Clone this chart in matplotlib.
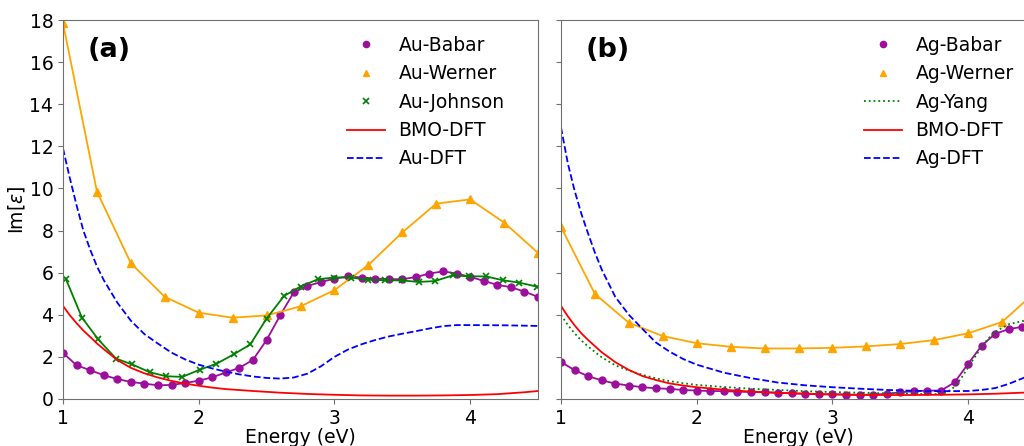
import numpy as np
import matplotlib
matplotlib.use("Agg")
import matplotlib.pyplot as plt
from matplotlib.lines import Line2D

# ---------------- Panel (a): Au ----------------
au_babar_E = [1.0, 1.1, 1.2, 1.3, 1.4, 1.5, 1.6, 1.7, 1.8, 1.9, 2.0, 2.1, 2.2, 2.3, 2.4, 2.5,
              2.6, 2.7, 2.8, 2.9, 3.0, 3.1, 3.2, 3.3, 3.4, 3.5, 3.6, 3.7, 3.8, 3.9, 4.0, 4.1,
              4.2, 4.3, 4.4, 4.5]
au_babar = [2.19, 1.6, 1.37, 1.13, 0.95, 0.81, 0.73, 0.65, 0.67, 0.76, 0.87, 1.03, 1.26, 1.48,
            1.86, 2.8, 3.97, 5.06, 5.37, 5.55, 5.72, 5.82, 5.77, 5.72, 5.69, 5.69, 5.79, 5.96,
            6.06, 5.96, 5.8, 5.61, 5.42, 5.31, 5.1, 4.85]

au_werner_E = [1.0, 1.25, 1.5, 1.75, 2.0, 2.25, 2.5, 2.75, 3.0, 3.25, 3.5, 3.75, 4.0, 4.25, 4.5]
au_werner = [17.85, 9.85, 6.45, 4.85, 4.1, 3.86, 3.97, 4.4, 5.17, 6.36, 7.91, 9.28, 9.48, 8.38, 6.94]

au_johnson_E = [1.02, 1.14, 1.26, 1.39, 1.51, 1.64, 1.76, 1.88, 2.01, 2.13, 2.26, 2.38, 2.50,
                2.63, 2.75, 2.88, 3.00, 3.12, 3.25, 3.37, 3.50, 3.62, 3.74, 3.87, 3.99, 4.12,
                4.24, 4.36, 4.49]
au_johnson = [5.72, 3.86, 2.83, 1.92, 1.64, 1.27, 1.08, 1.05, 1.4, 1.67, 2.13, 2.59, 3.82, 4.9,
              5.34, 5.69, 5.77, 5.77, 5.66, 5.64, 5.63, 5.56, 5.6, 5.87, 5.83, 5.82, 5.64, 5.53,
              5.34]

au_bmo_E = [1.0, 1.05, 1.1, 1.15, 1.2, 1.25, 1.3, 1.4, 1.5, 1.6, 1.7, 1.8, 1.9, 2.0, 2.1, 2.2,
            2.4, 2.6, 2.8, 3.0, 3.2, 3.4, 3.6, 3.8, 4.0, 4.2, 4.4, 4.5]
au_bmo = [4.42, 3.98, 3.6, 3.25, 2.95, 2.64, 2.37, 1.85, 1.48, 1.22, 1.02, 0.86, 0.73, 0.63,
          0.54, 0.47, 0.38, 0.3, 0.24, 0.2, 0.17, 0.16, 0.16, 0.17, 0.19, 0.23, 0.32, 0.38]

au_dft_E = [1.0, 1.05, 1.1, 1.15, 1.2, 1.25, 1.3, 1.4, 1.5, 1.6, 1.7, 1.8, 1.9, 2.0, 2.1, 2.2,
            2.3, 2.4, 2.5, 2.6, 2.7, 2.8, 2.9, 3.0, 3.1, 3.2, 3.3, 3.4, 3.5, 3.6, 3.7, 3.8,
            3.9, 4.0, 4.25, 4.5]
au_dft = [11.9, 10.5, 9.2, 8.0, 7.1, 6.3, 5.65, 4.58, 3.72, 3.08, 2.63, 2.2, 1.88, 1.63, 1.45,
          1.3, 1.17, 1.07, 1.0, 0.97, 1.02, 1.2, 1.55, 2.0, 2.35, 2.6, 2.8, 2.97, 3.1, 3.22,
          3.35, 3.46, 3.51, 3.51, 3.5, 3.47]

# ---------------- Panel (b): Ag ----------------
ag_babar_E = [1.0, 1.1, 1.2, 1.3, 1.4, 1.5, 1.6, 1.7, 1.8, 1.9, 2.0, 2.1, 2.2, 2.3, 2.4, 2.5,
              2.6, 2.7, 2.8, 2.9, 3.0, 3.1, 3.2, 3.3, 3.4, 3.5, 3.6, 3.7, 3.8, 3.9, 4.0, 4.1,
              4.2, 4.3, 4.4]
ag_babar = [1.76, 1.37, 1.08, 0.89, 0.73, 0.64, 0.56, 0.51, 0.48, 0.43, 0.4, 0.38, 0.37, 0.35,
            0.33, 0.32, 0.3, 0.27, 0.25, 0.22, 0.22, 0.21, 0.19, 0.21, 0.24, 0.32, 0.37, 0.4,
            0.4, 0.79, 1.67, 2.54, 3.1, 3.32, 3.43]

ag_werner_E = [1.0, 1.25, 1.5, 1.75, 2.0, 2.25, 2.5, 2.75, 3.0, 3.25, 3.5, 3.75, 4.0, 4.25, 4.5]
ag_werner = [8.17, 4.99, 3.62, 2.99, 2.65, 2.48, 2.4, 2.4, 2.43, 2.5, 2.61, 2.8, 3.12, 3.66, 5.1]

ag_yang_E = [1.0, 1.05, 1.1, 1.15, 1.2, 1.3, 1.4, 1.5, 1.6, 1.7, 1.8, 1.9, 2.0, 2.2, 2.4, 2.6,
             2.8, 3.0, 3.2, 3.4, 3.6, 3.7, 3.8, 3.85, 3.9, 3.95, 4.0, 4.05, 4.1, 4.15, 4.2,
             4.3, 4.4, 4.5]
ag_yang = [3.99, 3.52, 3.12, 2.78, 2.49, 1.98, 1.6, 1.35, 1.15, 0.98, 0.85, 0.75, 0.67, 0.57,
           0.49, 0.43, 0.37, 0.33, 0.3, 0.27, 0.25, 0.23, 0.24, 0.35, 0.58, 1.0, 1.5, 2.0,
           2.48, 2.88, 3.2, 3.55, 3.7, 3.78]

ag_bmo_E = [1.0, 1.05, 1.1, 1.15, 1.2, 1.3, 1.4, 1.5, 1.6, 1.7, 1.8, 1.9, 2.0, 2.2, 2.4, 2.6,
            2.8, 3.0, 3.2, 3.4, 3.6, 3.8, 4.0, 4.2, 4.4, 4.5]
ag_bmo = [4.42, 3.93, 3.5, 3.12, 2.8, 2.22, 1.75, 1.38, 1.09, 0.9, 0.74, 0.64, 0.56, 0.44,
          0.35, 0.29, 0.25, 0.22, 0.2, 0.19, 0.19, 0.2, 0.22, 0.25, 0.3, 0.33]

ag_dft_E = [1.0, 1.05, 1.1, 1.15, 1.2, 1.25, 1.3, 1.4, 1.5, 1.6, 1.7, 1.8, 1.9, 2.0, 2.2, 2.4,
            2.6, 2.8, 3.0, 3.2, 3.4, 3.6, 3.8, 4.0, 4.1, 4.2, 4.3, 4.4, 4.5]
ag_dft = [12.9, 11.2, 9.9, 8.8, 7.85, 6.95, 6.15, 4.85, 4.0, 3.33, 2.68, 2.25, 1.9, 1.63, 1.25,
          0.99, 0.78, 0.65, 0.56, 0.49, 0.43, 0.39, 0.37, 0.38, 0.43, 0.52, 0.72, 0.98, 1.25]

x_ticks = [1, 2, 3, 4]
y_ticks = [0, 2, 4, 6, 8, 10, 12, 14, 16, 18]

PURPLE = "#9c0f9c"
ORANGE = "orange"
GREEN = "green"
FS = 13.5

plt.rcParams["font.family"] = ["DejaVu Sans"]
fig = plt.figure(figsize=(10.24, 4.46), dpi=100)
W, H = 1024, 446
ax1 = fig.add_axes([63 / W, (H - 399) / H, 475 / W, 379 / H])
ax2 = fig.add_axes([561 / W, (H - 399) / H, 475 / W, 379 / H])


def style(ax, labels=True):
    ax.set_xlim(1, 4.5)
    ax.set_ylim(0, 18)
    ax.set_xticks(x_ticks)
    ax.set_yticks(y_ticks)
    for s in ax.spines.values():
        s.set_color("#707070")
    ax.tick_params(colors="#707070", labelcolor="black", labelsize=FS, length=3.5)
    if not labels:
        ax.set_yticklabels([])
    ax.set_xlabel("Energy (eV)", fontsize=FS, labelpad=0)


lw = 1.3
# Panel (a)
ax1.plot(au_babar_E, au_babar, color=PURPLE, lw=lw, marker="o", ms=5)
ax1.plot(au_werner_E, au_werner, color=ORANGE, lw=lw, marker="^", ms=5.5)
ax1.plot(au_johnson_E, au_johnson, color=GREEN, lw=lw, marker="x", ms=5, mew=1.2)
ax1.plot(au_bmo_E, au_bmo, color="red", lw=lw)
ax1.plot(au_dft_E, au_dft, color="blue", lw=lw, ls="--")
style(ax1, True)
ax1.set_ylabel(r"Im[$\epsilon$]", fontsize=FS, labelpad=2)
ax1.text(0.052, 0.955, "(a)", transform=ax1.transAxes, fontsize=19.5, fontweight="bold",
         va="top", ha="left")

# Panel (b)
ax2.plot(ag_babar_E, ag_babar, color=PURPLE, lw=lw, marker="o", ms=5)
ax2.plot(ag_werner_E, ag_werner, color=ORANGE, lw=lw, marker="^", ms=5.5)
ax2.plot(ag_yang_E, ag_yang, color=GREEN, lw=lw, ls=":")
ax2.plot(ag_bmo_E, ag_bmo, color="red", lw=lw)
ax2.plot(ag_dft_E, ag_dft, color="blue", lw=lw, ls="--")
style(ax2, False)
ax2.text(0.052, 0.955, "(b)", transform=ax2.transAxes, fontsize=19.5, fontweight="bold",
         va="top", ha="left")


def legend(ax, names, third_marker, anchor):
    handles = [
        Line2D([], [], color=PURPLE, marker="o", ls="none", ms=4.5),
        Line2D([], [], color=ORANGE, marker="^", ls="none", ms=4.5),
    ]
    if third_marker:
        handles.append(Line2D([], [], color=GREEN, marker="x", ls="none", ms=4, mew=1.2))
    else:
        handles.append(Line2D([], [], color=GREEN, ls=":", lw=lw))
    handles += [Line2D([], [], color="red", lw=lw), Line2D([], [], color="blue", lw=lw, ls="--")]
    ax.legend(handles, names, loc="upper left", bbox_to_anchor=anchor,
              bbox_transform=fig.transFigure, frameon=False,
              fontsize=FS, handlelength=2.05, handletextpad=0.7, labelspacing=0.5,
              borderaxespad=0, borderpad=0)


legend(ax1, ["Au-Babar", "Au-Werner", "Au-Johnson", "BMO-DFT", "Au-DFT"], True,
       (347 / W, (H - 36) / H))
legend(ax2, ["Ag-Babar", "Ag-Werner", "Ag-Yang", "BMO-DFT", "Ag-DFT"], False,
       (864 / W, (H - 36) / H))

fig.savefig("out.png", dpi=100)
